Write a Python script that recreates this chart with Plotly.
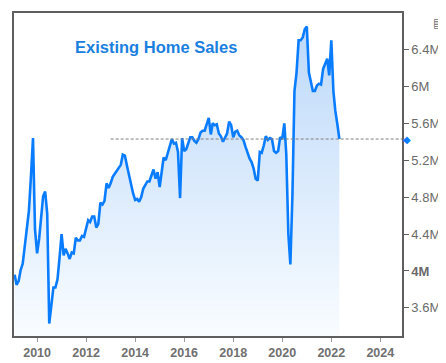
import plotly.graph_objects as go
import pandas as pd

# Existing home sales, millions (SAAR), monthly Feb 2009 - May 2022
start_month = "2009-02-01"
sales = [
    3.96, 3.85, 3.89, 4.01, 4.08, 4.26, 4.44, 4.65, 5.02, 5.44, 4.45,          # Feb-Dec 2009
    4.19, 4.35, 4.61, 4.81, 4.86, 4.62, 3.43, 3.66, 3.82, 3.82, 3.91, 4.14,    # 2010
    4.40, 4.17, 4.24, 4.19, 4.13, 4.20, 4.19, 4.36, 4.33, 4.33, 4.38, 4.37,    # 2011
    4.45, 4.55, 4.53, 4.59, 4.59, 4.47, 4.51, 4.74, 4.72, 4.76, 4.95, 4.90,    # 2012
    4.95, 5.02, 5.05, 5.08, 5.12, 5.15, 5.26, 5.25, 5.14, 5.03, 4.91, 4.84,    # 2013
    4.77, 4.78, 4.75, 4.80, 4.89, 4.94, 4.97, 4.97, 5.03, 5.10, 5.00, 5.07,    # 2014
    4.91, 5.07, 5.23, 5.20, 5.27, 5.36, 5.43, 5.38, 5.39, 5.29, 4.79, 5.44,    # 2015
    5.30, 5.32, 5.39, 5.45, 5.45, 5.41, 5.39, 5.43, 5.50, 5.52, 5.52, 5.60,    # 2016
    5.66, 5.48, 5.60, 5.58, 5.59, 5.49, 5.46, 5.40, 5.45, 5.49, 5.62, 5.58,    # 2017
    5.45, 5.51, 5.52, 5.47, 5.45, 5.42, 5.35, 5.28, 5.22, 5.18, 5.11, 5.00,    # 2018
    4.98, 5.29, 5.28, 5.36, 5.46, 5.42, 5.44, 5.43, 5.30, 5.28, 5.30, 5.45,    # 2019
    5.43, 5.60, 5.27, 4.40, 4.07, 4.83, 5.95, 6.15, 6.50, 6.50, 6.53, 6.62,    # 2020
    6.65, 6.15, 6.05, 5.95, 5.95, 6.01, 6.03, 6.02, 6.19, 6.25, 6.30, 6.12,    # 2021
    6.50, 5.95, 5.74, 5.59, 5.43,                                              # 2022
]
dates = pd.date_range(start_month, periods=len(sales), freq="MS")

title_text = "Existing Home Sales"
y_tick_vals = [3.6, 4.0, 4.4, 4.8, 5.2, 5.6, 6.0, 6.4]
y_tick_text = ["3.6M", "<b>4M</b>", "4.4M", "4.8M", "5.2M", "5.6M", "6M", "6.4M"]
x_tick_vals = [f"{y}-01-01" for y in range(2010, 2025, 2)]
x_tick_text = [str(y) for y in range(2010, 2025, 2)]
ref_start = "2013-01-01"
x_range = ["2009-01-22", "2024-11-19"]
y_range = [3.295, 6.796]

last_val = sales[-1]

fig = go.Figure()

fig.add_trace(go.Scatter(
    x=dates, y=sales, mode="lines",
    line=dict(color="#0a7cff", width=2.6, shape="linear"),
    fill="tozeroy",
    fillgradient=dict(
        type="vertical", start=3.3, stop=6.8,
        colorscale=[[0, "rgb(250,253,255)"], [1, "rgb(186,215,250)"]],
    ),
    hoverinfo="skip", showlegend=False,
))

fig.add_trace(go.Scatter(
    x=[ref_start, x_range[1]], y=[last_val, last_val], mode="lines",
    line=dict(color="#7f7f7f", width=1, dash="3px,2px"),
    hoverinfo="skip", showlegend=False,
))

# last-value marker sitting just outside the right axis
fig.add_annotation(
    x=1.013, y=last_val, xref="paper", yref="y", showarrow=False,
    text="◆", font=dict(family="DejaVu Sans", size=10, color="#0a7cff"),
    xanchor="center", yanchor="middle",
)

fig.add_annotation(
    x=0.151, y=0.894, xref="paper", yref="paper", xanchor="left", yanchor="middle",
    text=f"<b>{title_text}</b>", showarrow=False,
    font=dict(family="Liberation Sans, Arial, sans-serif", size=16.5, color="#1a80e0"),
)

# small export icon in the top-right corner
fig.add_annotation(
    x=1.095, y=0.94, xref="paper", yref="paper", showarrow=False,
    text="▤", font=dict(family="DejaVu Sans", size=12, color="#707070"),
    xanchor="center", yanchor="bottom",
)

fig.update_layout(
    width=438, height=355,
    margin=dict(l=6, r=44, t=3, b=22),
    paper_bgcolor="white", plot_bgcolor="white",
    font=dict(family="Liberation Sans, Arial, sans-serif", color="#6a6a6a"),
    xaxis=dict(
        type="date", range=x_range,
        tickvals=x_tick_vals, ticktext=[f"<b>{t}</b>" for t in x_tick_text],
        ticks="outside", ticklen=4, tickcolor="#9a9a9a", tickwidth=1,
        tickfont=dict(size=12.5, color="#707070"),
        showgrid=False, zeroline=False,
        showline=True, linecolor="#5f5f5f", linewidth=1.5, mirror=True,
    ),
    yaxis=dict(
        side="right", range=y_range,
        tickvals=y_tick_vals, ticktext=y_tick_text,
        ticks="outside", ticklen=5, tickcolor="#5f5f5f", tickwidth=1,
        tickfont=dict(size=13, color="#6a6a6a"),
        showgrid=False, zeroline=False,
        showline=True, linecolor="#5f5f5f", linewidth=1.5, mirror=True,
    ),
)

fig.write_html("out.html")
